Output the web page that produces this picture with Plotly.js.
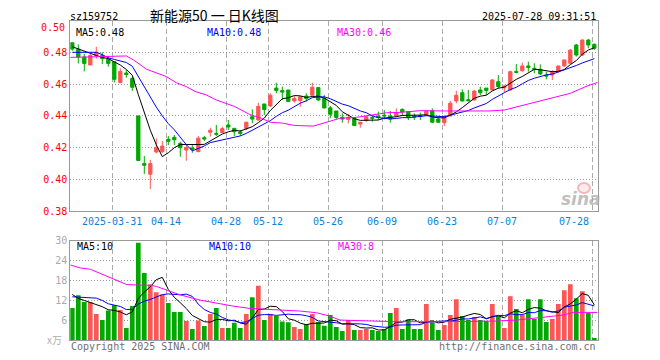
<!DOCTYPE html>
<html><head><meta charset="utf-8">
<script src="https://cdn.plot.ly/plotly-3.0.1.min.js"></script>
<style>html,body{margin:0;padding:0;background:#fff}#chart{width:660px;height:360px}</style>
</head><body><div id="chart"></div>
<script>
// ---------- data ----------
const dates = ["2025-03-20","2025-03-21","2025-03-24","2025-03-25","2025-03-26","2025-03-27","2025-03-28","2025-03-31",
"2025-04-01","2025-04-02","2025-04-03","2025-04-07","2025-04-08","2025-04-09","2025-04-10","2025-04-11","2025-04-14","2025-04-15","2025-04-16","2025-04-17","2025-04-18","2025-04-21","2025-04-22","2025-04-23","2025-04-24","2025-04-25","2025-04-28","2025-04-29","2025-04-30",
"2025-05-06","2025-05-07","2025-05-08","2025-05-09","2025-05-12","2025-05-13","2025-05-14","2025-05-15","2025-05-16","2025-05-19","2025-05-20","2025-05-21","2025-05-22","2025-05-23","2025-05-26","2025-05-27","2025-05-28","2025-05-29","2025-05-30",
"2025-06-03","2025-06-04","2025-06-05","2025-06-06","2025-06-09","2025-06-10","2025-06-11","2025-06-12","2025-06-13","2025-06-16","2025-06-17","2025-06-18","2025-06-19","2025-06-20","2025-06-23","2025-06-24","2025-06-25","2025-06-26","2025-06-27","2025-06-30",
"2025-07-01","2025-07-02","2025-07-03","2025-07-04","2025-07-07","2025-07-08","2025-07-09","2025-07-10","2025-07-11","2025-07-14","2025-07-15","2025-07-16","2025-07-17","2025-07-18","2025-07-21","2025-07-22","2025-07-23","2025-07-24","2025-07-25","2025-07-28"];

const open  = [.486,.482,.477,.472,.478,.478,.4756,.474,.461,.467,.4636,.440,.410,.4033,.4173,.4175,.4253,.4265,.4227,.4185,.4198,.4175,.4263,.4297,.429,.4295,.4343,.4322,.4299,.432,
.4395,.4374,.4475,.4462,.4575,.4559,.4563,.4494,.4497,.4525,.453,.4578,.451,.4451,.4431,.4391,.4378,.4385,.4349,.437,
.4391,.4399,.4405,.4399,.4399,.4441,.4427,.4397,.4401,.4405,.4433,.438,.4357,.4399,.4494,.4546,.4502,.450,.4563,.4575,
.4563,.4615,.4577,.4563,.468,.4684,.4714,.4699,.4693,.4657,.4657,.4678,.4714,.4731,.4846,.4783,.4877,.485];
const high  = [.486,.485,.479,.479,.4835,.480,.4773,.474,.470,.469,.4647,.440,.4148,.4123,.4259,.4242,.4273,.428,.4237,.4216,.4216,.4273,.4273,.4326,.4343,.4332,.4374,.4322,.4311,.4364,
.4441,.4483,.4475,.4542,.4609,.4584,.4563,.4525,.4521,.4542,.4609,.4578,.4531,.4462,.4431,.4416,.4412,.4385,.4362,.4399,
.4405,.4427,.4437,.4431,.4447,.4447,.4431,.4416,.4421,.4431,.4448,.4399,.4405,.4494,.4558,.4567,.4563,.4563,.4584,.4575,
.4632,.4657,.4594,.4684,.4726,.4735,.4741,.4731,.4724,.4678,.4689,.4714,.4752,.4819,.4852,.4882,.4884,.4856];
const low   = [.481,.473,.468,.472,.476,.4726,.471,.461,.4605,.464,.4557,.4116,.4035,.394,.4164,.4167,.4216,.4216,.4143,.4118,.4168,.4175,.4242,.427,.4274,.429,.4311,.4274,.4274,.4311,
.4353,.437,.4406,.4458,.4542,.450,.449,.4483,.4458,.449,.4527,.4494,.4447,.4385,.4378,.4357,.4353,.4341,.4326,.4364,
.4364,.4374,.4378,.4357,.4391,.4399,.4374,.4374,.4374,.440,.4357,.4357,.4336,.4399,.4479,.449,.449,.4496,.4531,.4531,
.4559,.4573,.4546,.4559,.4668,.4678,.4678,.4668,.4657,.463,.4626,.4672,.471,.4726,.4773,.4777,.4825,.4815];
const close = [.482,.477,.473,.478,.480,.476,.473,.463,.468,.466,.458,.412,.409,.410,.420,.421,.424,.425,.420,.420,.419,.426,.4255,.431,.4285,.432,.433,.430,.429,.436,
.438,.446,.444,.453,.456,.455,.449,.451,.452,.451,.458,.450,.445,.441,.439,.438,.439,.434,.436,.4395,
.4385,.439,.440,.438,.442,.4425,.439,.4393,.4397,.443,.436,.436,.4395,.448,.453,.4494,.4496,.4556,.4546,.456,
.4626,.4584,.4588,.4678,.4674,.4714,.4705,.4693,.4664,.4651,.4678,.4714,.4752,.4814,.4783,.4877,.4846,.4825];
const volume = [9.7,13.6,11.5,11.5,7.9,6.1,9.0,10.6,9.1,3.7,10.3,29.4,20.3,16.8,14.5,13.8,11.2,8.5,8.5,5.8,3.4,6.0,4.3,7.9,9.7,3.7,3.7,5.3,3.7,7.9,
13.0,16.4,6.1,7.9,7.3,5.7,5.4,4.0,3.4,4.9,7.9,5.5,4.4,7.6,4.0,2.8,6.1,3.1,3.1,3.4,
3.1,2.8,3.3,8.2,9.7,3.4,6.3,3.4,3.4,10.9,5.4,3.1,4.6,7.6,12.4,7.3,6.1,7.0,6.1,5.8,
10.9,7.3,3.7,13.3,9.4,7.8,12.4,6.4,12.4,5.5,6.4,10.9,15.1,16.9,12.7,14.8,8.2,0.7];

const ma5 = [.4835,.482,.4805,.479,.478,.4768,.476,.474,.472,.4692,.4656,.4534,.4426,.431,.4218,.4144,.4168,.420,.422,.422,.4216,.422,.4221,.4243,.426,.4286,.430,.4309,.4305,.432,
.4332,.4358,.4386,.4434,.4474,.4508,.4514,.4528,.4526,.4516,.4522,.4524,.4512,.449,.4466,.4426,.4404,.4382,.4372,.4373,
.4374,.4374,.4386,.439,.4395,.4403,.4403,.4402,.4405,.4407,.4394,.4388,.4388,.4405,.4425,.4452,.4479,.4511,.4524,.453,
.4557,.4574,.4581,.4607,.463,.4648,.4672,.4693,.469,.4685,.4678,.468,.4692,.4722,.4748,.4788,.4814,.4829];
const ma10 = [.480,.480,.480,.480,.480,.4785,.4765,.4755,.4745,.4736,.4712,.4647,.4583,.4515,.4455,.440,.4351,.4313,.4265,.4219,.418,.4194,.4211,.4232,.424,.4251,.426,.4265,.4274,.429,
.4309,.4329,.4348,.437,.4397,.442,.4436,.4457,.448,.4495,.4515,.4519,.452,.4508,.4491,.4474,.4464,.4447,.4431,.442,
.440,.4389,.4384,.4381,.4384,.4389,.4389,.4394,.4398,.4401,.4399,.4396,.4395,.4405,.4416,.4423,.4434,.445,.4465,.4478,
.4504,.4527,.4546,.4566,.458,.4602,.4623,.4637,.4649,.4658,.4663,.4676,.4692,.4706,.4717,.4733,.4747,.476];
const ma30X = [-0.33,4.7,9,10.2,12.4,15.7,17.3,19,20.6,22.4,24,27,29.5,31.5,33,35,37,40.2,42.5,44.6,47.4,50.2,52.4,54.6,58,62,66,69.6,72,74.6,77.4,80.2,83,85.8,87.57];
const ma30Y = [.4768,.4773,.4777,.4752,.4693,.4647,.4609,.4584,.4552,.4531,.450,.446,.441,.4385,.436,.4355,.434,.4336,.4364,.4385,.4391,.4405,.442,.4422,.4433,.4431,.4431,.4431,.4437,.4462,.449,.4515,.4542,.4588,.4611];

const vma5 = [13.8,12.6,12.0,11.3,10.84,10.12,9.2,9.02,8.54,7.7,8.54,12.62,14.56,16.1,18.26,18.96,15.32,12.96,11.3,9.56,7.48,6.44,5.6,5.48,6.26,6.32,5.86,6.06,5.22,4.86,
6.72,9.26,9.42,10.26,10.14,8.68,6.48,6.06,5.16,4.68,5.12,5.14,5.22,6.06,5.88,4.86,4.98,4.72,3.82,3.7,
3.76,3.1,3.14,4.16,5.42,5.48,6.18,6.2,5.24,5.48,5.88,5.24,5.48,6.32,6.62,7.0,7.6,8.08,7.78,6.46,
7.18,7.42,6.76,8.2,8.92,8.3,9.32,9.86,9.68,8.9,8.62,8.32,10.06,10.96,12.4,14.08,13.54,10.66];
const vma10 = [13.1,13.0,12.9,12.9,12.7,12.0,11.0,10.6,10.2,9.27,9.33,10.91,11.79,12.32,12.98,13.75,13.97,13.76,13.7,13.91,13.22,10.88,9.28,8.39,7.91,6.9,6.15,5.83,5.35,5.56,
6.52,7.56,7.74,7.74,7.5,7.7,7.87,7.74,7.71,7.41,6.9,5.81,5.64,5.61,5.28,4.99,5.06,4.97,4.94,4.79,
4.31,4.04,3.93,3.99,4.56,4.62,4.64,4.67,4.7,5.45,5.68,5.71,5.84,5.78,6.05,6.44,6.42,6.78,7.05,6.54,
7.09,7.51,7.42,7.99,7.69,7.74,8.37,8.31,8.94,8.91,8.46,8.82,9.96,10.32,10.65,11.35,10.93,10.36];
const vma30X = [-0.33,1.3,3,4.6,6.8,9.05,11.3,13,14.05,15.7,17.95,21.3,24,26.8,29.6,32.4,35.2,38,40.7,42.9,44.6,48.5,54,61.3,65.2,70.7,74.1,78,81.8,83.5,87.57];
const vma30Y = [22.7,21.8,21.4,20.2,18.4,16.8,16.6,16.6,16.2,15.2,13.7,12.1,11.2,10.3,9.6,9.4,9.2,8.8,8.3,7.3,6.1,5.8,5.6,5.6,5.6,5.8,6.1,6.9,7.6,8.4,8.4];

const tickDates  = ["2025-03-31","2025-04-14","2025-04-28","2025-05-12","2025-05-26","2025-06-09","2025-06-23","2025-07-07","2025-07-28"];
const tickLabels = ["2025-03-31","04-14","04-28","05-12","05-26","06-09","06-23","07-07","07-28"];
const priceTicks = [0.38,0.40,0.42,0.44,0.46,0.48];
const priceTickText = ["0.38","0.40","0.42","0.44","0.46","0.48"];
const volTicks = [6,12,18,24,30];
const volTickText = ["6","12","18","24","30"];

const titleCode = "sz159752";
const titleName = "新能源50\u00a0一\u00a0日K线图";
const titleTime = "2025-07-28 09:31:51";
const maPriceLabels = ["MA5:0.48","MA10:0.48","MA30:0.46"];
const maVolLabels = ["MA5:10","MA10:10","MA30:8"];

// ---------- styling / geometry ----------
const W = 660, H = 360;
const L = 70.3, R = 597.7, pTop = 20.5, pBot = 211.3, vTop = 240.7, vBot = 340.3;
const px = x => x / W, py = y => 1 - y / H;
const RED = '#ff5555', GREEN = '#00a800';
const MONO = 'DejaVu Sans Mono';
const idx = dates.map((d, i) => i);
const XR = [-0.333, 87.567];
const tickPos = tickDates.map(d => dates.indexOf(d) - 0.333);
const volColors = idx.map(i => close[i] > open[i] ? RED : GREEN);

const traces = [
  {type:'candlestick', x: idx, open, high, low, close, xaxis:'x', yaxis:'y',
   increasing:{line:{color:RED, width:1}, fillcolor:RED},
   decreasing:{line:{color:GREEN, width:1}, fillcolor:GREEN},
   whiskerwidth:0, hoverinfo:'skip', showlegend:false},
  {type:'scatter', mode:'lines', x: idx, y: ma5, line:{color:'#000000', width:1}, xaxis:'x', yaxis:'y', hoverinfo:'skip', showlegend:false},
  {type:'scatter', mode:'lines', x: idx, y: ma10, line:{color:'#0000ff', width:1}, xaxis:'x', yaxis:'y', hoverinfo:'skip', showlegend:false},
  {type:'scatter', mode:'lines', x: ma30X, y: ma30Y, line:{color:'#ff00ff', width:1}, xaxis:'x', yaxis:'y', hoverinfo:'skip', showlegend:false},
  {type:'bar', x: idx, y: volume, width:0.78, marker:{color: volColors, line:{width:0}}, xaxis:'x2', yaxis:'y2', hoverinfo:'skip', showlegend:false},
  {type:'scatter', mode:'lines', x: idx, y: vma5, line:{color:'#000000', width:1}, xaxis:'x2', yaxis:'y2', hoverinfo:'skip', showlegend:false},
  {type:'scatter', mode:'lines', x: idx, y: vma10, line:{color:'#0000ff', width:1}, xaxis:'x2', yaxis:'y2', hoverinfo:'skip', showlegend:false},
  {type:'scatter', mode:'lines', x: vma30X, y: vma30Y, line:{color:'#ff00ff', width:1}, xaxis:'x2', yaxis:'y2', hoverinfo:'skip', showlegend:false}
];

const frame = {showline:true, mirror:true, linecolor:'#999999', linewidth:1, zeroline:false, fixedrange:true};
const xCommon = Object.assign({}, frame, {
  domain:[px(L), px(R)], range: XR, tickmode:'array', tickvals: tickPos, ticktext: tickLabels.map(() => ''),
  showticklabels:false, ticks:'', showgrid:true, gridcolor:'#aaaaaa', griddash:'5px,3px', gridwidth:1
});
const layout = {
  width: W, height: H, margin:{l:0, r:0, t:0, b:0}, paper_bgcolor:'#ffffff', plot_bgcolor:'#ffffff',
  showlegend:false, boxgap:0.22, bargap:0.2, dragmode:false, hovermode:false,
  xaxis: Object.assign({}, xCommon, {anchor:'y', rangeslider:{visible:false}}),
  xaxis2: Object.assign({}, xCommon, {anchor:'y2'}),
  yaxis: Object.assign({}, frame, {domain:[py(pBot), py(pTop)], range:[0.38, 0.50], anchor:'x',
    tickmode:'array', tickvals: priceTicks, ticktext: priceTickText, ticks:'', 
    tickfont:{family:MONO, size:10, color:'#ff0000'}, showgrid:true, gridcolor:'#999999', griddash:'1px,2px'}),
  yaxis2: Object.assign({}, frame, {domain:[py(vBot), py(vTop)], range:[0, 30], anchor:'x2',
    tickmode:'array', tickvals: volTicks, ticktext: volTickText, ticks:'',
    tickfont:{family:MONO, size:10, color:'#aaaaaa'}, showgrid:true, gridcolor:'#999999', griddash:'1px,2px'}),
  annotations: [],
  shapes: [
    {type:'circle', xref:'paper', yref:'paper', x0:px(578), x1:px(590), y0:py(193), y1:py(183),
     line:{color:'rgba(240,130,130,0.55)', width:2}, fillcolor:'rgba(255,200,200,0.35)'}
  ]
};

const ann = (text, x, y, xanchor, font, extra) => Object.assign({text, x, y, xref:'paper', yref:'paper', xanchor, yanchor:'middle', showarrow:false, font}, extra || {});
const A = layout.annotations;
A.push(ann(titleCode, px(68), py(16.5), 'left', {family:MONO, size:10, color:'#000'}));
A.push(ann(titleName, px(148), py(15.5), 'left', {family:'Noto Sans CJK SC', size:14, color:'#000'}));
A.push(ann(titleTime, px(R), py(16.5), 'right', {family:MONO, size:10, color:'#000'}));
A.push(ann("0.50", px(66.5), py(27.3), 'right', {family:MONO, size:10, color:'#ff0000'}));
const maColors = ['#000000', '#0000ff', '#ff00ff'];
const maXs = [73.5, 205, 334.5];
maPriceLabels.forEach((t, k) => A.push(ann(t, px(maXs[k]), py(32), 'left', {family:MONO, size:10, color:maColors[k]})));
maVolLabels.forEach((t, k) => A.push(ann(t, px(maXs[k] + 1.5), py(246.5), 'left', {family:MONO, size:10, color:maColors[k]})));
tickLabels.forEach((t, k) => {
  const last = k === tickLabels.length - 1;
  A.push({text:t, x: last ? tickPos[k] - 0.27 : tickPos[k], y: py(221), xref:'x', yref:'paper',
    xanchor: last ? 'right' : 'center', yanchor:'middle', showarrow:false,
    font:{family:MONO, size:10, color:'#0f7fd8'}});
});
A.push(ann("x万", px(63.5), py(339), 'right', {family:'Noto Sans CJK SC', size:10, color:'#b0b0b0'}));
A.push(ann("Copyright 2025 SINA.COM", px(L - 1), py(346.5), 'left', {family:MONO, size:10, color:'#707070'}));
A.push(ann("http://finance.sina.com.cn", px(R + 0.5), py(346.5), 'right', {family:MONO, size:10, color:'#707070'}));
A.push(ann("sina", px(581), py(199), 'center', {family:'DejaVu Sans', size:17, color:'rgba(170,170,170,0.75)', weight:'bold', style:'italic'}));

Plotly.newPlot('chart', traces, layout, {displayModeBar:false, staticPlot:true});
</script></body></html>
